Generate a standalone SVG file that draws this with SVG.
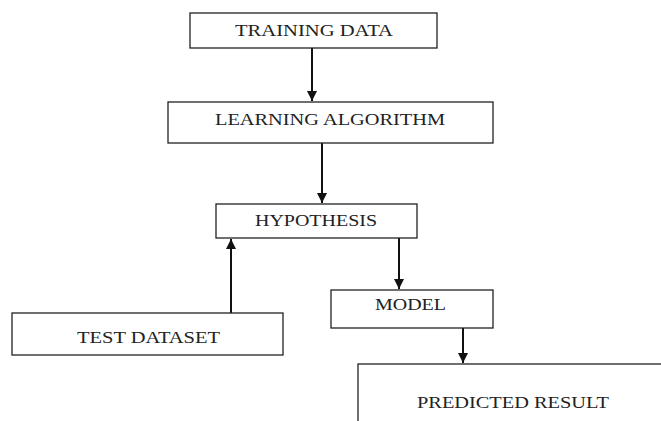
<svg xmlns="http://www.w3.org/2000/svg" width="661" height="421" viewBox="0 0 661 421">
<style>
.box{fill:#fff;stroke:#222;stroke-width:1.3}
.lbl{font-family:"Liberation Serif","Times New Roman",serif;font-size:16px;fill:#222}
.con{stroke:#111;stroke-width:2;fill:none}
</style>
<defs>
<marker id="ah" markerWidth="10" markerHeight="10" refX="10" refY="5" orient="auto" markerUnits="userSpaceOnUse">
<path d="M0,0 L10,5 L0,10 Z" fill="#111"/>
</marker>
</defs>
<rect width="661" height="421" fill="#fff"/>
<g id="connectors">
<line class="con" x1="312" y1="48" x2="312" y2="101" marker-end="url(#ah)"/>
<line class="con" x1="322" y1="143" x2="322" y2="203" marker-end="url(#ah)"/>
<line class="con" x1="231" y1="313" x2="231" y2="239" marker-end="url(#ah)"/>
<line class="con" x1="399" y1="238" x2="399" y2="289" marker-end="url(#ah)"/>
<line class="con" x1="463" y1="328" x2="463" y2="363" marker-end="url(#ah)"/>
</g>
<g id="training-data">
<rect class="box" x="190" y="13" width="247" height="35"/>
<text class="lbl" x="235" y="36" textLength="158" lengthAdjust="spacingAndGlyphs">TRAINING DATA</text>
</g>
<g id="learning-algorithm">
<rect class="box" x="168" y="102" width="325" height="41"/>
<text class="lbl" x="215" y="125" textLength="230" lengthAdjust="spacingAndGlyphs">LEARNING ALGORITHM</text>
</g>
<g id="hypothesis">
<rect class="box" x="216" y="204" width="201" height="34"/>
<text class="lbl" x="255" y="226" textLength="122" lengthAdjust="spacingAndGlyphs">HYPOTHESIS</text>
</g>
<g id="test-dataset">
<rect class="box" x="12" y="313" width="271" height="42"/>
<text class="lbl" x="77" y="343" textLength="143" lengthAdjust="spacingAndGlyphs">TEST DATASET</text>
</g>
<g id="model">
<rect class="box" x="331" y="290" width="162" height="38"/>
<text class="lbl" x="375" y="310" textLength="71" lengthAdjust="spacingAndGlyphs">MODEL</text>
</g>
<g id="predicted-result">
<rect class="box" x="358" y="364" width="320" height="80"/>
<text class="lbl" x="417" y="408" textLength="192" lengthAdjust="spacingAndGlyphs">PREDICTED RESULT</text>
</g>
</svg>
